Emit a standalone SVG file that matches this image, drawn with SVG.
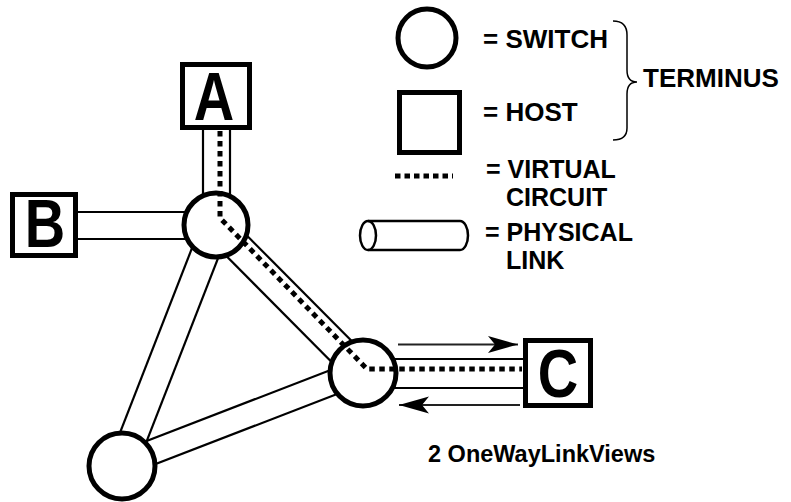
<svg xmlns="http://www.w3.org/2000/svg" width="791" height="502" viewBox="0 0 791 502">
  <style>
    .tube { stroke: #000; stroke-width: 2.2; fill: none; }
    .sw { fill: #fff; stroke: #000; stroke-width: 5; }
    .host { fill: #fff; stroke: #000; stroke-width: 5; }
    .vc { fill: none; stroke: #000; stroke-width: 5; stroke-dasharray: 5.5 4.5; }
    .lbl { font-family: "Liberation Sans", Arial, sans-serif; font-weight: bold; font-size: 26px; fill: #000; }
    .lbl2 { font-family: "Liberation Sans", Arial, sans-serif; font-weight: bold; font-size: 25px; fill: #000; }
    .big { font-family: "Liberation Sans", Arial, sans-serif; font-weight: bold; font-size: 56px; fill: #000; text-anchor: middle; }
    .dir { stroke: #222; stroke-width: 2; fill: none; }
  </style>
  <defs>
    <marker id="head" viewBox="-31 -9 32 18" refX="0" refY="0" markerWidth="32" markerHeight="18" markerUnits="userSpaceOnUse" orient="auto">
      <path d="M0,0 L-30,-8.5 L-23,0 L-30,8.5 Z" fill="#000"/>
    </marker>
  </defs>
  <rect width="791" height="502" fill="#fff"/>

  <!-- physical links (pairs of parallel lines) -->
  <g id="connectors">
    <!-- A to switch 1 -->
    <line class="tube" x1="203" y1="129" x2="203" y2="225"/>
    <line class="tube" x1="230" y1="129" x2="230" y2="225"/>
    <!-- B to switch 1 -->
    <line class="tube" x1="78" y1="212" x2="216" y2="212"/>
    <line class="tube" x1="78" y1="239" x2="216" y2="239"/>
    <!-- switch 1 to switch 2 -->
    <line class="tube" x1="226.3" y1="214.8" x2="373.3" y2="362.8"/>
    <line class="tube" x1="205.7" y1="235.2" x2="352.7" y2="383.2"/>
    <!-- switch 1 to switch 3 -->
    <line class="tube" x1="229" y1="230.1" x2="135" y2="471.1"/>
    <line class="tube" x1="203" y1="219.9" x2="109" y2="460.9"/>
    <!-- switch 2 to switch 3 -->
    <line class="tube" x1="363" y1="357.5" x2="122" y2="450.5"/>
    <line class="tube" x1="363" y1="384" x2="122" y2="477"/>
    <!-- switch 2 to C -->
    <line class="tube" x1="363" y1="359" x2="525" y2="359"/>
    <line class="tube" x1="363" y1="388" x2="525" y2="388"/>
  </g>

  <g id="switch1"><circle class="sw" cx="216" cy="225" r="32"/></g>
  <g id="switch2"><circle class="sw" cx="363" cy="373" r="33"/></g>
  <g id="switch3"><circle class="sw" cx="122" cy="466" r="33"/></g>

  <!-- virtual circuit from A through both switches to C -->
  <g id="virtual-circuit">
    <path class="vc" d="M220,131 V218 L367,369 H522"/>
  </g>

  <!-- the two one-way link views alongside the C link -->
  <g id="one-way-views">
    <line class="dir" x1="398" y1="344.5" x2="518" y2="344.5" marker-end="url(#head)"/>
    <line class="dir" x1="520" y1="405" x2="399" y2="405" marker-end="url(#head)"/>
  </g>

  <g id="hostA">
    <rect class="host" x="182.5" y="64.5" width="67" height="63"/>
    <text class="big" transform="translate(214,120) scale(1,1.22)">A</text>
  </g>
  <g id="hostB">
    <rect class="host" x="12.5" y="194.5" width="63" height="61"/>
    <text class="big" transform="translate(45,247) scale(1,1.22)">B</text>
  </g>
  <g id="hostC">
    <rect class="host" x="525.5" y="340.5" width="65" height="65"/>
    <text class="big" transform="translate(558,397) scale(1,1.22)">C</text>
  </g>

  <text class="lbl" x="428" y="462" style="font-size:23.5px">2 OneWayLinkViews</text>

  <!-- legend -->
  <g id="legend">
    <circle cx="427" cy="38" r="29" fill="none" stroke="#000" stroke-width="5"/>
    <text class="lbl" x="483" y="48">= SWITCH</text>
    <rect x="399.5" y="92.5" width="60" height="60" fill="none" stroke="#000" stroke-width="5"/>
    <text class="lbl" x="483" y="121">= HOST</text>
    <path d="M613,21 Q627,21 627,35 V70 Q627,82 637,82 Q627,82 627,94 V128 Q627,140 613,140" fill="none" stroke="#000" stroke-width="1.5"/>
    <text class="lbl" x="643" y="87">TERMINUS</text>
    <line x1="395" y1="176" x2="453" y2="176" stroke="#000" stroke-width="5" stroke-dasharray="5.5 4"/>
    <text class="lbl2" x="486" y="178">= VIRTUAL</text>
    <text class="lbl2" x="506" y="206">CIRCUIT</text>
    <path d="M368,221 H460 A8,14.5 0 0 1 460,250 H368" fill="none" stroke="#000" stroke-width="2.5"/>
    <ellipse cx="368" cy="235.5" rx="8" ry="14.5" fill="none" stroke="#000" stroke-width="2.5"/>
    <text class="lbl2" x="485" y="241">= PHYSICAL</text>
    <text class="lbl2" x="506" y="269">LINK</text>
  </g>
</svg>
